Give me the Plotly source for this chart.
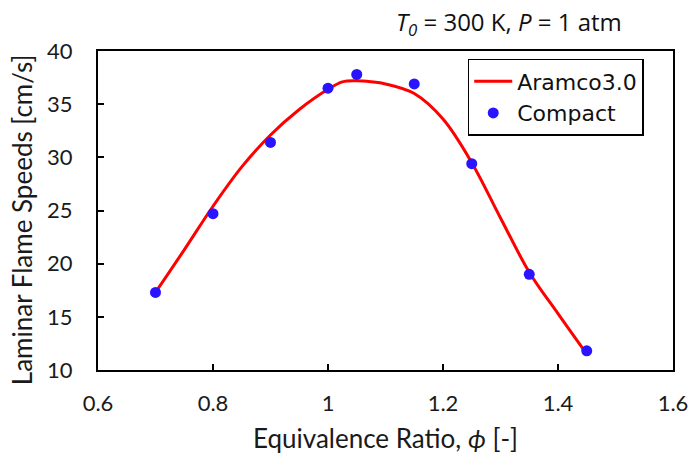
import plotly.graph_objects as go

# Aramco3.0 model curve
aramco_phi = [0.70, 0.75, 0.80, 0.85, 0.90, 0.95, 1.00, 1.025, 1.05, 1.075, 1.10, 1.15, 1.20, 1.25, 1.30, 1.35, 1.40, 1.45]
aramco_sl = [17.3, 21.3, 25.4, 29.1, 32.1, 34.5, 36.4, 37.1, 37.2, 37.1, 36.9, 36.0, 33.6, 29.5, 24.3, 19.2, 15.3, 11.5]

# Compact mechanism points
compact_phi = [0.70, 0.80, 0.90, 1.00, 1.05, 1.15, 1.25, 1.35, 1.45]
compact_sl = [17.3, 24.7, 31.4, 36.5, 37.8, 36.9, 29.4, 19.0, 11.8]

x_ticks = [0.6, 0.8, 1.0, 1.2, 1.4, 1.6]
x_tick_labels = ["0.6", "0.8", "1", "1.2", "1.4", "1.6"]
y_ticks = [10, 15, 20, 25, 30, 35, 40]

fig = go.Figure()
fig.add_trace(go.Scatter(
    x=aramco_phi, y=aramco_sl, mode="lines", name="Aramco3.0",
    line=dict(color="#ff0000", width=3, shape="spline", smoothing=1.0),
))
fig.add_trace(go.Scatter(
    x=compact_phi, y=compact_sl, mode="markers", name="Compact",
    marker=dict(color="#2a14ff", size=11),
))

tick_font = dict(family="Lato, Open Sans, sans-serif", size=22, color="#1a1a1a")
title_font = dict(family="Lato, Open Sans, sans-serif", size=26, color="#1a1a1a")

fig.update_layout(
    width=700, height=461,
    margin=dict(l=98, r=18, t=51, b=91),
    plot_bgcolor="white", paper_bgcolor="white",
    showlegend=True,
    legend=dict(
        x=0.643, y=0.975, xanchor="left", yanchor="top",
        bordercolor="black", borderwidth=1.5, bgcolor="white",
        font=dict(family="DejaVu Sans, sans-serif", size=22, color="#111111"),
        itemwidth=38, tracegroupgap=0,
    ),
    xaxis=dict(
        range=[0.6, 1.6], tickvals=x_ticks, ticktext=x_tick_labels,
        showgrid=False, zeroline=False,
        showline=True, linecolor="black", linewidth=2, mirror=True,
        ticks="inside", ticklen=6, tickwidth=2, tickcolor="black",
        tickfont=tick_font, ticklabelstandoff=13,
    ),
    yaxis=dict(
        range=[10, 40], tickvals=y_ticks,
        showgrid=False, zeroline=False,
        showline=True, linecolor="black", linewidth=2, mirror=True,
        ticks="inside", ticklen=6, tickwidth=2, tickcolor="black",
        tickfont=tick_font, ticklabelstandoff=19,
    ),
    annotations=[
        dict(
            text="<i>T</i><sub><i>0</i></sub> = 300 K, <i>P</i> = 1 atm",
            xref="paper", x=0.714, yref="paper", y=1.0, yshift=28,
            xanchor="center", yanchor="middle", showarrow=False,
            font=dict(family="Open Sans, sans-serif", size=24, color="#111111"),
        ),
        dict(
            text="Equivalence Ratio, <i>ϕ</i> [-]",
            xref="paper", x=0.5, yref="paper", y=-0.213,
            xanchor="center", yanchor="middle", showarrow=False,
            font=title_font,
        ),
        dict(
            text="Laminar Flame Speeds [cm/s]", textangle=-90,
            xref="paper", x=-0.132, yref="paper", y=0.47,
            xanchor="center", yanchor="middle", showarrow=False,
            font=title_font,
        ),
    ],
)

fig.write_html("out.html", config={"displayModeBar": False},
               post_script="document.body.style.margin='0';")
